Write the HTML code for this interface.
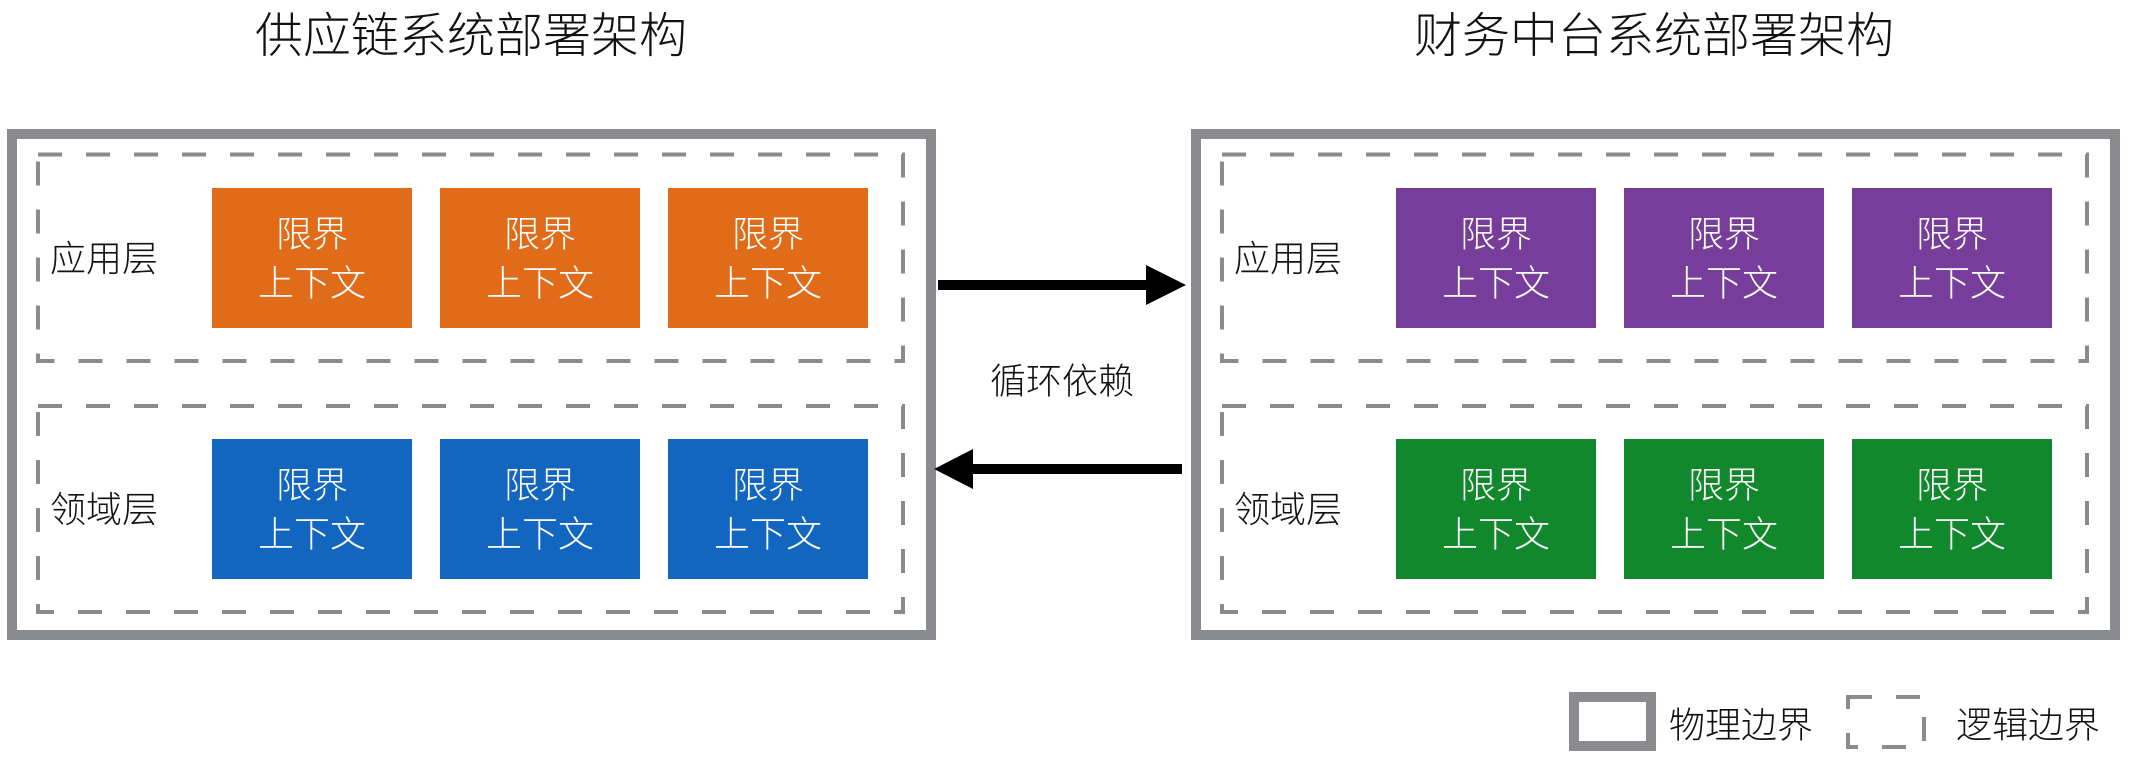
<!DOCTYPE html>
<html>
<head>
<meta charset="utf-8">
<style>
  html, body { margin:0; padding:0; background:#ffffff; }
  body { width:2132px; height:760px; overflow:hidden; }
  svg { display:block; }
  text { font-family: "Liberation Sans", "Noto Sans CJK SC", "WenQuanYi Zen Hei", sans-serif; font-weight:300; }
  .title { font-size:48px; fill:#111; }
  .lbl { font-size:36px; fill:#111; }
  .bt { font-size:36px; fill:#ffffff; text-anchor:middle; }
</style>
</head>
<body>
<svg width="2132" height="760" viewBox="0 0 2132 760" xmlns="http://www.w3.org/2000/svg">
  <!-- Titles -->
  <text class="title" x="471" y="52" text-anchor="middle">供应链系统部署架构</text>
  <text class="title" x="1654" y="52" text-anchor="middle">财务中台系统部署架构</text>

  <!-- Outer physical boxes -->
  <rect x="12" y="134" width="919" height="501" fill="none" stroke="#898B8F" stroke-width="10"/>
  <rect x="1196" y="134" width="919" height="501" fill="none" stroke="#898B8F" stroke-width="10"/>

  <!-- Dashed logical boxes -->
  <rect x="38" y="154.5" width="865" height="206.5" fill="none" stroke="#898B8F" stroke-width="4" stroke-dasharray="24 24"/>
  <rect x="38" y="406" width="865" height="206" fill="none" stroke="#898B8F" stroke-width="4" stroke-dasharray="24 24"/>
  <rect x="1222" y="154.5" width="865" height="206.5" fill="none" stroke="#898B8F" stroke-width="4" stroke-dasharray="24 24"/>
  <rect x="1222" y="406" width="865" height="206" fill="none" stroke="#898B8F" stroke-width="4" stroke-dasharray="24 24"/>

  <!-- Layer labels -->
  <text class="lbl" x="50" y="271">应用层</text>
  <text class="lbl" x="50" y="522">领域层</text>
  <text class="lbl" x="1234" y="271">应用层</text>
  <text class="lbl" x="1234" y="522">领域层</text>

  <!-- Left upper (orange) -->
  <rect x="212" y="188" width="200" height="140" fill="#E06C1A"/>
  <rect x="440" y="188" width="200" height="140" fill="#E06C1A"/>
  <rect x="668" y="188" width="200" height="140" fill="#E06C1A"/>
  <!-- Left lower (blue) -->
  <rect x="212" y="439" width="200" height="140" fill="#1366C0"/>
  <rect x="440" y="439" width="200" height="140" fill="#1366C0"/>
  <rect x="668" y="439" width="200" height="140" fill="#1366C0"/>
  <!-- Right upper (purple) -->
  <rect x="1396" y="188" width="200" height="140" fill="#763E9A"/>
  <rect x="1624" y="188" width="200" height="140" fill="#763E9A"/>
  <rect x="1852" y="188" width="200" height="140" fill="#763E9A"/>
  <!-- Right lower (green) -->
  <rect x="1396" y="439" width="200" height="140" fill="#12882C"/>
  <rect x="1624" y="439" width="200" height="140" fill="#12882C"/>
  <rect x="1852" y="439" width="200" height="140" fill="#12882C"/>

  <!-- Box texts upper row -->
  <g class="row">
    <text class="bt" x="312" y="246.5">限界</text><text class="bt" x="312" y="295.5">上下文</text>
    <text class="bt" x="540" y="246.5">限界</text><text class="bt" x="540" y="295.5">上下文</text>
    <text class="bt" x="768" y="246.5">限界</text><text class="bt" x="768" y="295.5">上下文</text>
    <text class="bt" x="1496" y="246.5">限界</text><text class="bt" x="1496" y="295.5">上下文</text>
    <text class="bt" x="1724" y="246.5">限界</text><text class="bt" x="1724" y="295.5">上下文</text>
    <text class="bt" x="1952" y="246.5">限界</text><text class="bt" x="1952" y="295.5">上下文</text>
  </g>
  <!-- Box texts lower row -->
  <g class="row">
    <text class="bt" x="312" y="497.5">限界</text><text class="bt" x="312" y="546.5">上下文</text>
    <text class="bt" x="540" y="497.5">限界</text><text class="bt" x="540" y="546.5">上下文</text>
    <text class="bt" x="768" y="497.5">限界</text><text class="bt" x="768" y="546.5">上下文</text>
    <text class="bt" x="1496" y="497.5">限界</text><text class="bt" x="1496" y="546.5">上下文</text>
    <text class="bt" x="1724" y="497.5">限界</text><text class="bt" x="1724" y="546.5">上下文</text>
    <text class="bt" x="1952" y="497.5">限界</text><text class="bt" x="1952" y="546.5">上下文</text>
  </g>

  <!-- Arrows -->
  <rect x="938" y="280" width="210" height="10" fill="#000"/>
  <polygon points="1146,265 1186,285 1146,305" fill="#000"/>
  <rect x="971" y="464" width="211" height="10" fill="#000"/>
  <polygon points="973,449 934,469 973,489" fill="#000"/>
  <text class="lbl" x="1062" y="393.5" text-anchor="middle">循环依赖</text>

  <!-- Legend -->
  <rect x="1574" y="697" width="77" height="49" fill="none" stroke="#898B8F" stroke-width="10"/>
  <text class="lbl" x="1669" y="737.5">物理边界</text>
  <rect x="1848" y="697" width="76" height="50" fill="none" stroke="#898B8F" stroke-width="4" stroke-dasharray="24 24"/>
  <text class="lbl" x="1956" y="737.5">逻辑边界</text>
</svg>
</body>
</html>
